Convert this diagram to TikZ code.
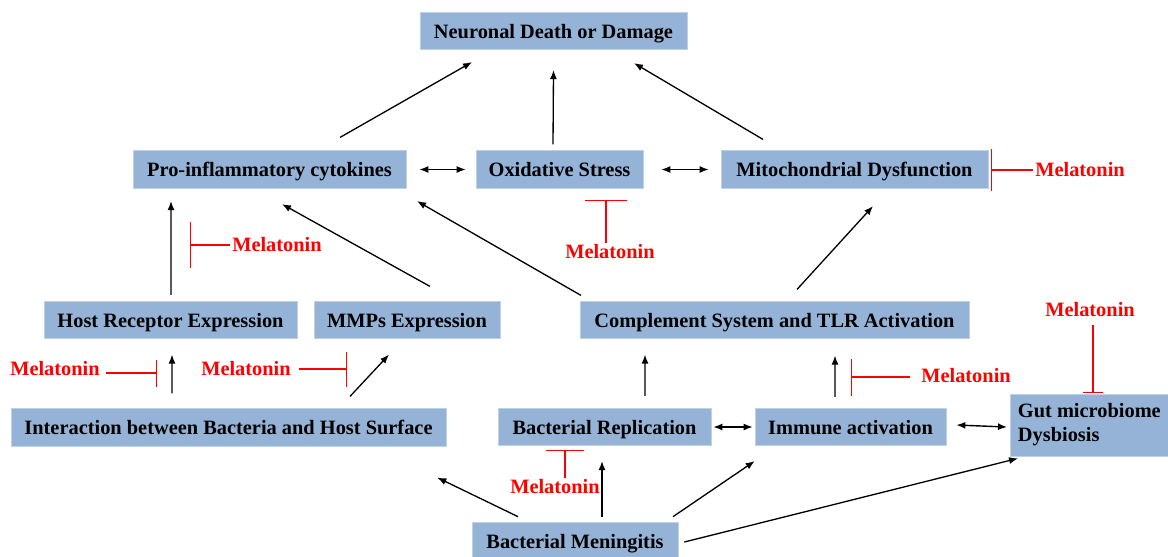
\documentclass[tikz,border=0pt]{standalone}
\usepackage{fontspec}
\setmainfont{Liberation Serif}
\usepackage{tikz}
\usetikzlibrary{positioning}
\usetikzlibrary{calc,arrows.meta}

\definecolor{boxblue}{RGB}{149,179,215}
\definecolor{melred}{RGB}{255,0,0}

\tikzset{
	>={Latex[length=0.18cm,width=0.14cm]},
	box/.style={fill=boxblue, draw=boxblue!60!white, line width=0.4pt,
		font=\fontsize{11.6}{13.6}\selectfont\bfseries, minimum height=0.75cm, inner sep=2pt,
		text height=10pt, text depth=2pt},
	mel/.style={text=melred, font=\fontsize{11.6}{13.6}\selectfont\bfseries, inner sep=1pt},
	arr/.style={->, line width=0.75pt},
	darr/.style={<->, line width=0.8pt},
	inhib/.style={draw=melred, line width=0.6pt, -{Bar[width=#1]}},
}

\begin{document}
\begin{tikzpicture}[x=0.02cm, y=-0.02cm]
		
		% ---------------------
		% Proper size --- Bounding box
		\useasboundingbox (0,0) rectangle (1168,556);
		
		% ---------------------
		% Boxes
		\node[box, minimum width=5.34cm] (Neuronal) at (553.5,31) {Neuronal Death or Damage};
		
		\node[box, minimum width=5.46cm] (ProInfl) at (269.5,169.5) {Pro-inflammatory cytokines};
		\node[box, minimum width=3.34cm] (OxStress) at (559.5,169.5) {Oxidative Stress};
		\node[box, minimum width=5.34cm] (Mito) at (854.5,169.5) {Mitochondrial Dysfunction};
		
		\node[box, minimum width=5.06cm] (HostRec) at (170.5,320) {Host Receptor Expression};
		\node[box, minimum width=3.72cm] (MMPs) at (407,320) {MMPs Expression};
		\node[box, minimum width=7.78cm] (Complement) at (774.5,320) {Complement System and TLR Activation};
		
		\node[box, minimum width=8.70cm] (Interaction) at (228.5,427.5) {Interaction between Bacteria and Host Surface};
		\node[box, minimum width=4.26cm] (Replication) at (604.5,427) {Bacterial Replication};
		\node[box, minimum width=3.82cm] (Immune) at (850.5,427) {Immune activation};
		\node[box, text height=, text depth=, minimum width=3.16cm, minimum height=1.24cm, align=left, anchor=west] (Gut) at (1010,425) {Gut microbiome\\Dysbiosis};
		
		\node[box, minimum width=4.12cm, minimum height=0.76cm] (Meningitis) at (575,541) {Bacterial Meningitis};
		
		% ---------------------
		% Melatonin labels & bar ends
		\node[mel] (Mel1) at (1080,170) {Melatonin};
		\node[mel] (Mel2) at (610,252) {Melatonin};
		\node[mel] (Mel3) at (277,245) {Melatonin};
		\node[mel] (Mel4) at (55,369) {Melatonin};
		\node[mel] (Mel5) at (246,369) {Melatonin};
		\node[mel] (Mel6) at (555,487) {Melatonin};
		\node[mel] (Mel7) at (966,376) {Melatonin};
		\node[mel] (Mel8) at (1090,310) {Melatonin};
		
		\coordinate (BarMito) at (991,170);
		\coordinate (BarOx) at (606,200);
		\coordinate (BarPro) at (190,245);
		\coordinate (BarHost) at (157,373);
		\coordinate (BarMMPs) at (347,369);
		\coordinate (BarRep) at (565,450);
		\coordinate (BarImm) at (851,377);
		\coordinate (BarGut) at (1093,393);
		
		% ---------------------
		% Arrows
		\draw[arr] ($(ProInfl.north)+(70.5,-13)$) -- ($(Neuronal.south)+(-81.5,12)$);
		\draw[arr] ($(OxStress.north)+(-6.5,-6)$) -- ($(Neuronal.south)+(0,20)$);
		\draw[arr] ($(Mito.north)+(-91.5,-11)$) -- ($(Neuronal.south)+(80.5,13)$);
		
		\draw[darr] ($(ProInfl.east)+(13,0)$) -- ($(OxStress.west)+(-10,0)$);
		\draw[darr] ($(OxStress.east)+(18,0)$) -- ($(Mito.west)+(-12,0)$);
		
		\draw[arr] ($(HostRec.north)+(0.5,-6)$) -- ($(ProInfl.south)+(-98.5,12.5)$);
		\draw[arr] ($(MMPs.north)+(23,-14.5)$) -- ($(ProInfl.south)+(12.5,15.5)$);
		\draw[arr] ($(Complement.north)+(-193.5,-5.5)$) -- ($(ProInfl.south)+(147.5,12.5)$);
		\draw[arr] ($(Complement.north)+(22.5,-11.5)$) -- ($(Mito.south)+(18.5,17.5)$);
		
		\draw[arr] ($(Interaction.north)+(-56.5,-15)$) -- ($(HostRec.south)+(1.5,15.5)$);
		\draw[arr] ($(Interaction.north)+(121.5,-12)$) -- ($(MMPs.south)+(-18,15.5)$);
		\draw[arr] ($(Replication.north)+(40.5,-12)$) -- ($(Complement.south)+(-129.5,15.5)$);
		\draw[arr] ($(Immune.north)+(-15.5,-11)$) -- ($(Complement.south)+(60.5,16.5)$);
		
		\draw[darr] ($(Replication.east)+(2,0)$) -- ($(Immune.west)+(-2,0)$);
		\draw[darr] ($(Immune.east)+(10,-2)$) -- ($(Gut.west)+(-3,2)$);
		
		\draw[arr] ($(Meningitis.north)+(-57,-5)$) -- ($(Interaction.south east)+(-9,31)$);
		\draw[arr] ($(Meningitis.north)+(27,-5)$) -- ($(Replication.south)+(-2.5,15)$);
		\draw[arr] ($(Meningitis.north)+(98,-5)$) -- ($(Immune.south west)+(0,15)$);
		\draw[arr] ($(Meningitis.east)+(6,1)$) -- ($(Gut.south west)+(8,2)$);
		
		% ---------------------
		% Inhibition by melatonin
		\draw[inhib=0.84cm] (Mel1.west) -- (BarMito);
		\draw[inhib=0.84cm] (BarOx |- Mel2.north) -- (BarOx);
		\draw[inhib=0.92cm] (Mel3.west) -- (BarPro);
		\draw[inhib=0.54cm] ($(Mel4.east |- BarHost)+(4,0)$) -- (BarHost);
		\draw[inhib=0.70cm] ($(Mel5.east |- BarMMPs)+(6,0)$) -- (BarMMPs);
		\draw[inhib=0.76cm] (BarRep |- Mel6.north) -- (BarRep);
		\draw[inhib=0.74cm] ($(Mel7.west |- BarImm)+(-9,0)$) -- (BarImm);
		\draw[inhib=0.40cm] ($(BarGut |- Mel8.south)+(0,6)$) -- (BarGut);
		
\end{tikzpicture}
\end{document}
